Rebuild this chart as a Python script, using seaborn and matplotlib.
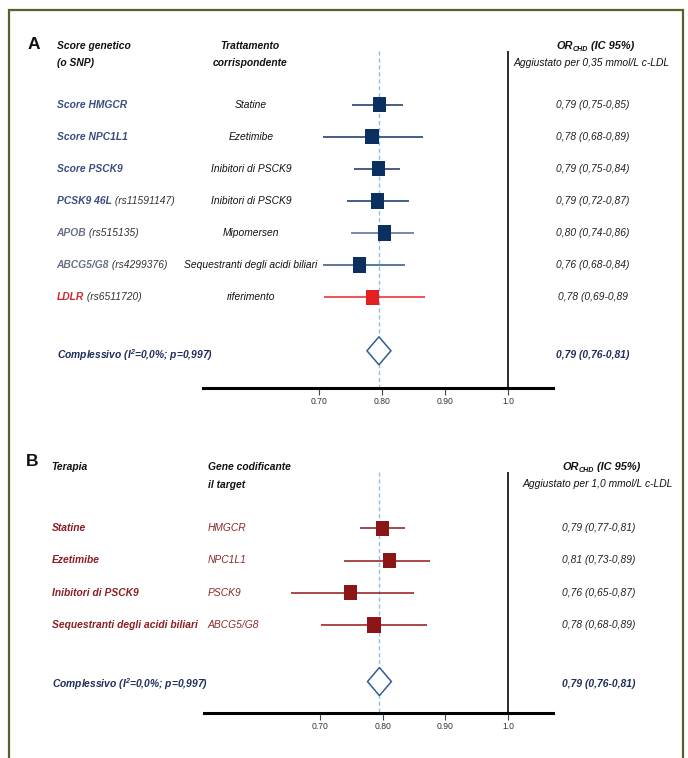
import numpy as np
import matplotlib
matplotlib.use("Agg")
import matplotlib.pyplot as plt
from matplotlib import font_manager
from matplotlib.patches import Polygon, Rectangle
from matplotlib.markers import MarkerStyle
from matplotlib.path import Path
from matplotlib.transforms import blended_transform_factory
import pandas as pd
import seaborn as sns

# ---- panel A: genetic scores ----
a_gene = ["Score HMGCR", "Score NPC1L1", "Score PSCK9", "PCSK9 46L", "APOB", "ABCG5/G8", "LDLR"]
a_snp = ["", "", "", " (rs11591147)", " (rs515135)", " (rs4299376)", " (rs6511720)"]
a_treat = ["Statine", "Ezetimibe", "Inibitori di PSCK9", "Inibitori di PSCK9",
           "Mipomersen", "Sequestranti degli acidi biliari", "riferimento"]
a_or = ["0,79 (0,75-0,85)", "0,78 (0,68-0,89)", "0,79 (0,75-0,84)", "0,79 (0,72-0,87)",
        "0,80 (0,74-0,86)", "0,76 (0,68-0,84)", "0,78 (0,69-0,89"]
a_est = [0.796, 0.784, 0.794, 0.793, 0.804, 0.764, 0.785]
a_lo = [0.753, 0.706, 0.756, 0.745, 0.750, 0.706, 0.708]
a_hi = [0.833, 0.865, 0.829, 0.843, 0.851, 0.837, 0.868]
a_group = ["score", "score", "score", "score", "snp", "snp", "ref"]
a_overall = [0.776, 0.795, 0.814]
a_overall_txt = "0,79 (0,76-0,81)"

# ---- panel B: therapies ----
b_ther = ["Statine", "Ezetimibe", "Inibitori di PSCK9", "Sequestranti degli acidi biliari"]
b_gene = ["HMGCR", "NPC1L1", "PSCK9", "ABCG5/G8"]
b_or = ["0,79 (0,77-0,81)", "0,81 (0,73-0,89)", "0,76 (0,65-0,87)", "0,78 (0,68-0,89)"]
b_est = [0.800, 0.811, 0.749, 0.786]
b_lo = [0.764, 0.738, 0.654, 0.702]
b_hi = [0.836, 0.875, 0.850, 0.871]
b_overall = [0.776, 0.795, 0.814]
b_overall_txt = "0,79 (0,76-0,81)"

xticks = [0.70, 0.80, 0.90, 1.0]
xtick_labels = ["0.70", "0.80", "0.90", "1.0"]

sns.set_theme(style="white")
names = {f.name for f in font_manager.fontManager.ttflist}
if "Liberation Sans Narrow" in names:
    FONT, k = "Liberation Sans Narrow", 1.0
else:
    FONT, k = "Liberation Sans", 0.86
plt.rcParams["font.family"] = [FONT, "DejaVu Sans"]
plt.rcParams["mathtext.fontset"] = "custom"
plt.rcParams["mathtext.rm"] = "Liberation Sans:italic:bold"
plt.rcParams["mathtext.it"] = "Liberation Sans:italic:bold"

FS = 8.6 * k
NAVY = "#0b2f5e"
RED = "#e3201f"
DRED = "#8c1518"
TXT_COL = {"score": "#3b4c80", "snp": "#676f87", "ref": "#d3272b"}
SQ_COL = {"score": NAVY, "snp": NAVY, "ref": RED}
LINE_COL = {"score": "#23446f", "snp": "#3f6189", "ref": "#e8393a"}
DIAM = "#2f5f92"
TOTAL = "#1f2d5a"
REFLINE = "#8ec0e8"

W, H = 688, 758
fig = plt.figure(figsize=(W / 100, H / 100), dpi=100)


def px_axes(left, right, top, bottom):
    return fig.add_axes([left / W, 1 - bottom / H, (right - left) / W, (bottom - top) / H])


def fx(px):
    return px / W


sq = MarkerStyle(Path([(-0.44, -0.5), (0.44, -0.5), (0.44, 0.5), (-0.44, 0.5), (-0.44, -0.5)],
                      [1, 2, 2, 2, 79]))


def forest(ax, est, lo, hi, sq_cols, line_cols, overall, y_over, ybot, ytop_line):
    rows = np.arange(len(est))
    df = pd.DataFrame({"est": est, "row": rows, "key": [str(r) for r in rows]})
    ax.vlines(overall[1], ytop_line, ybot, colors=REFLINE, linestyles=(0, (3, 2)), lw=1.0, zorder=1)
    ax.vlines(1.0, ytop_line, ybot, colors="#1a1a1a", lw=1.3, zorder=1)
    ax.hlines(rows, lo, hi, colors=line_cols, lw=1.2, zorder=2)
    sns.scatterplot(data=df, x="est", y="row", hue="key", palette=dict(zip(df["key"], sq_cols)),
                    marker=sq, s=122, linewidth=0, legend=False, ax=ax, zorder=3)
    h = 0.436
    ax.add_patch(Polygon([(overall[0], y_over), (overall[1], y_over - h), (overall[2], y_over),
                          (overall[1], y_over + h)], closed=True, fc="white", ec=DIAM, lw=1.1, zorder=3))
    ax.set_xlim(0.516, 1.071)
    ax.set_ylim(ybot, -2.3)
    ax.set_xticks(xticks)
    ax.set_xticklabels(xtick_labels, fontsize=6.2, family="Liberation Sans", color="#333333")
    ax.set_yticks([])
    ax.set_xlabel("")
    ax.set_ylabel("")
    for s in ["top", "left", "right"]:
        ax.spines[s].set_visible(False)
    ax.spines["bottom"].set_linewidth(2.2)
    ax.spines["bottom"].set_color("black")
    ax.tick_params(axis="x", direction="out", length=5, width=0.8, color="#444444", pad=2, bottom=True)
    ax.patch.set_alpha(0)


def or_header(ax, tr, x, y, sub_txt):
    t = ax.text(x, y, "OR", transform=tr, ha="left", va="center", fontsize=FS + 0.5,
                fontweight="bold", fontstyle="italic", color="#111111")
    s = ax.annotate("CHD", xy=(1, 0.12), xycoords=t, ha="left", va="center", fontsize=FS * 0.7,
                    fontweight="bold", fontstyle="italic", color="#111111")
    ax.annotate(" (IC 95%)", xy=(1, 0.5), xycoords=(s, t), ha="left", va="center", fontsize=FS + 0.5,
                fontweight="bold", fontstyle="italic", color="#111111")
    ax.text(x + 0.052, y + 0.53, sub_txt, transform=tr, ha="center", va="center", fontsize=FS,
            fontstyle="italic", color="#111111")


# ---------------- panel A ----------------
spA = 32.1
rowA0 = 104.6
axisA = 387.7
ybotA = (axisA - rowA0) / spA
axA = px_axes(203, 553, rowA0 - 2.3 * spA, axisA)
forest(axA, a_est, a_lo, a_hi, [SQ_COL[g] for g in a_group], [LINE_COL[g] if i != 4 else "#5a7a9e"
       for i, g in enumerate(a_group)], a_overall, 7.67, ybotA, -1.66)
trA = blended_transform_factory(fig.transFigure, axA.transData)

axA.text(fx(27.5), -1.87, "A", transform=trA, ha="left", va="center", fontsize=12.5,
         fontweight="bold", color="#111111")
axA.text(fx(56.7), -1.83, "Score genetico", transform=trA, ha="left", va="center", fontsize=FS,
         fontweight="bold", fontstyle="italic", color="#111111")
axA.text(fx(56.7), -1.30, "(o SNP)", transform=trA, ha="left", va="center", fontsize=FS,
         fontweight="bold", fontstyle="italic", color="#111111")
axA.text(fx(250), -1.83, "Trattamento", transform=trA, ha="center", va="center", fontsize=FS,
         fontweight="bold", fontstyle="italic", color="#111111")
axA.text(fx(250), -1.30, "corrispondente", transform=trA, ha="center", va="center", fontsize=FS,
         fontweight="bold", fontstyle="italic", color="#111111")
or_header(axA, trA, fx(556), -1.83, "Aggiustato per 0,35 mmol/L c-LDL")

for i in range(len(a_gene)):
    t = axA.text(fx(56.7), i, a_gene[i], transform=trA, ha="left", va="center", fontsize=FS,
                 fontweight="bold", fontstyle="italic", color=TXT_COL[a_group[i]])
    if a_snp[i]:
        axA.annotate(a_snp[i], xy=(1, 0.5), xycoords=t, ha="left", va="center", fontsize=FS,
                     fontstyle="italic", color="#333333")
    axA.text(fx(251), i, a_treat[i], transform=trA, ha="center", va="center", fontsize=FS,
             fontstyle="italic", color="#111111")
    axA.text(fx(593), i, a_or[i], transform=trA, ha="center", va="center", fontsize=FS,
             fontstyle="italic", color="#222222")

axA.text(fx(56.7), 7.8, "Complessivo (I$^{2}$=0,0%; p=0,997)", transform=trA, ha="left", va="center",
         fontsize=FS, fontweight="bold", fontstyle="italic", color=TOTAL)
axA.text(fx(593), 7.8, a_overall_txt, transform=trA, ha="center", va="center", fontsize=FS,
         fontweight="bold", fontstyle="italic", color=TOTAL)

# ---------------- panel B ----------------
spB = 32.2
rowB0 = 528.3
axisB = 712.7
ybotB = (axisB - rowB0) / spB
axB = px_axes(204, 553, rowB0 - 2.3 * spB, axisB)
forest(axB, b_est, b_lo, b_hi, [DRED] * 4, ["#9a2a2c"] * 4, b_overall, 4.76, ybotB, -1.76)
trB = blended_transform_factory(fig.transFigure, axB.transData)

axB.text(fx(26), -2.06, "B", transform=trB, ha="left", va="center", fontsize=12.5,
         fontweight="bold", color="#111111")
axB.text(fx(51.7), -1.90, "Terapia", transform=trB, ha="left", va="center", fontsize=FS,
         fontweight="bold", fontstyle="italic", color="#111111")
axB.text(fx(207.7), -1.90, "Gene codificante", transform=trB, ha="left", va="center", fontsize=FS,
         fontweight="bold", fontstyle="italic", color="#111111")
axB.text(fx(207.7), -1.34, "il target", transform=trB, ha="left", va="center", fontsize=FS,
         fontweight="bold", fontstyle="italic", color="#111111")
or_header(axB, trB, fx(562), -1.90, "Aggiustato per 1,0 mmol/L c-LDL")

for i in range(len(b_ther)):
    axB.text(fx(51.7), i, b_ther[i], transform=trB, ha="left", va="center", fontsize=FS,
             fontweight="bold", fontstyle="italic", color="#8b1e22")
    axB.text(fx(207.7), i, b_gene[i], transform=trB, ha="left", va="center", fontsize=FS,
             fontstyle="italic", color="#8b2a2e")
    axB.text(fx(599), i, b_or[i], transform=trB, ha="center", va="center", fontsize=FS,
             fontstyle="italic", color="#222222")

axB.text(fx(51.7), 4.84, "Complessivo (I$^{2}$=0,0%; p=0,997)", transform=trB, ha="left", va="center",
         fontsize=FS, fontweight="bold", fontstyle="italic", color=TOTAL)
axB.text(fx(599), 4.84, b_overall_txt, transform=trB, ha="center", va="center", fontsize=FS,
         fontweight="bold", fontstyle="italic", color=TOTAL)

# outer frame
fig.add_artist(Rectangle((fx(8.5), -0.05), fx(683 - 8.5), 1 - 10 / H + 0.05, transform=fig.transFigure,
                         fill=False, ec="#5d5d2e", lw=1.6))

fig.savefig("out.png", dpi=100)
